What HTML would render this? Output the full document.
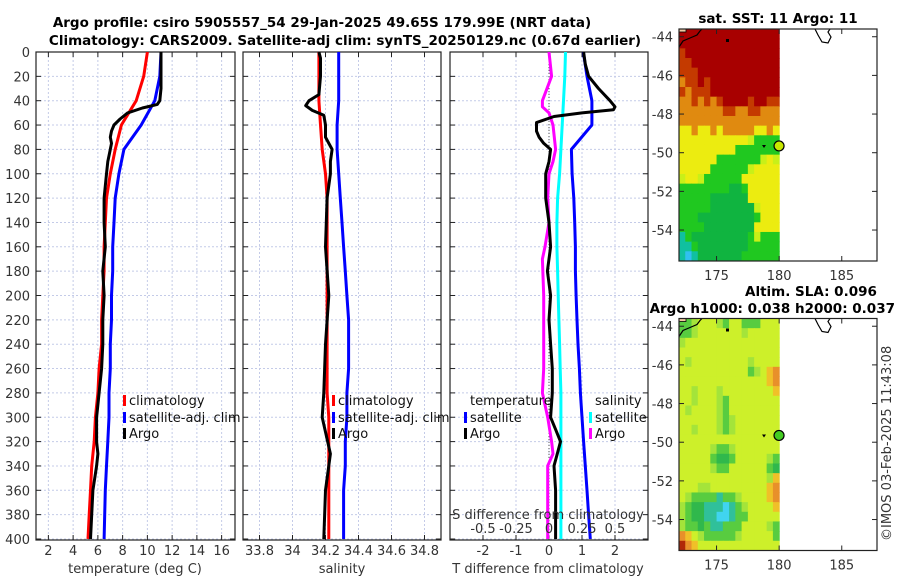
<!DOCTYPE html>
<html><head><meta charset="utf-8"><style>
body{margin:0;background:#fff}
svg{display:block;font-family:"DejaVu Sans","Liberation Sans",sans-serif}
.tk{font-size:13px;fill:#333}
.ttl{font-size:13.5px;font-weight:bold;fill:#000}
.lg{font-size:13px;fill:#111}
</style></head><body>
<svg id="fig" width="900" height="580" viewBox="0 0 900 580" xmlns="http://www.w3.org/2000/svg">
<defs>
<clipPath id="c1"><rect x="36" y="52" width="206" height="488"/></clipPath>
<clipPath id="c2"><rect x="243" y="52" width="206" height="488"/></clipPath>
<clipPath id="c3"><rect x="450" y="52" width="198" height="488"/></clipPath>
<clipPath id="cm1"><rect x="679" y="29" width="198" height="232"/></clipPath>
<clipPath id="cm2"><rect x="679" y="318.5" width="198" height="232"/></clipPath>
</defs>
<text class="ttl" x="322" y="27" text-anchor="middle">Argo profile: csiro 5905557_54 29-Jan-2025 49.65S 179.99E (NRT data)</text>
<text class="ttl" x="345" y="45" text-anchor="middle">Climatology: CARS2009. Satellite-adj clim: synTS_20250129.nc (0.67d earlier)</text>
<text class="ttl" x="778" y="23" text-anchor="middle">sat. SST: 11 Argo: 11</text>
<text class="ttl" x="745" y="296">Altim. SLA: 0.096</text>
<text class="ttl" x="895" y="313" text-anchor="end">Argo h1000: 0.038 h2000: 0.037</text>
<text class="tk" transform="translate(891,541) rotate(-90)">©IMOS 03-Feb-2025 11:43:08</text>
<g id="layer"></g>
</svg>
<script>
// ---------- data ----------
const depths = [0,20,40,60,80,100,120,140,160,180,200,220,240,260,280,300,320,340,360,380,400];
const climT = [10.0,9.7,9.1,7.9,7.4,7.0,6.7,6.6,6.5,6.5,6.4,6.3,6.3,6.1,6.0,5.8,5.7,5.5,5.4,5.3,5.2];
const satT = [11.1,11.0,10.6,9.5,8.1,7.7,7.4,7.3,7.2,7.2,7.1,7.1,7.0,7.0,6.9,6.9,6.8,6.7,6.6,6.55,6.5];
const argoDepth = [0,10,20,30,40,43,46,50,55,60,65,70,75,80,90,100,120,140,160,180,200,220,240,260,280,300,320,330,340,360,380,400];
const argoT = [11.1,11.1,11.1,11.1,11.0,10.8,9.6,8.4,7.8,7.3,7.1,7.0,7.1,7.0,6.8,6.7,6.5,6.5,6.6,6.4,6.5,6.4,6.4,6.3,6.1,5.9,5.9,6.0,5.9,5.6,5.5,5.4];
const climS = [34.16,34.16,34.16,34.17,34.18,34.20,34.21,34.21,34.21,34.21,34.21,34.21,34.21,34.21,34.21,34.22,34.22,34.22,34.22,34.22,34.22];
const satS = [34.28,34.28,34.28,34.27,34.27,34.28,34.29,34.30,34.31,34.32,34.33,34.34,34.34,34.34,34.33,34.33,34.32,34.32,34.31,34.31,34.31];
const argoSDepth = [0,5,20,35,40,44,48,52,60,70,80,90,100,120,160,200,240,280,300,330,360,400];
const argoS = [34.16,34.17,34.17,34.16,34.10,34.08,34.12,34.19,34.20,34.20,34.24,34.23,34.23,34.21,34.20,34.22,34.20,34.19,34.18,34.23,34.20,34.19];
const satTdiff = [1.04,1.15,1.3,1.3,0.68,0.7,0.75,0.78,0.8,0.8,0.82,0.85,0.88,0.92,0.95,1.0,1.05,1.1,1.15,1.2,1.25];
const satSdiff = [0.125,0.12,0.11,0.10,0.09,0.08,0.065,0.06,0.06,0.065,0.07,0.075,0.08,0.085,0.09,0.09,0.09,0.09,0.09,0.09,0.09];
const argoTdDepth = [0,10,20,30,40,45,47.5,50,53,58,65,70,75,80,90,100,120,140,160,180,200,220,240,260,280,300,310,320,330,340,360,380,400];
const argoTdiff = [1.05,1.1,1.2,1.5,1.85,2.0,1.95,1.0,0.15,-0.38,-0.38,-0.3,-0.16,0.05,0.0,-0.1,-0.1,0.0,0.05,-0.05,0.05,0.0,0.05,0.1,0.1,0.05,0.2,0.35,0.25,0.15,0.2,0.2,0.2];
const argoSdDepth = [0,20,40,45,50,60,80,90,100,120,140,160,170,200,260,280,300,320,330,340,360,400];
const argoSdiff = [0.0,0.02,-0.05,-0.05,0.0,0.03,0.05,0.03,0.0,-0.01,0.0,-0.03,-0.05,-0.04,-0.04,-0.05,-0.01,0.02,0.03,-0.01,-0.01,-0.01];
const depthTicks = [0,20,40,60,80,100,120,140,160,180,200,220,240,260,280,300,320,340,360,380,400];
const tTicks = [2,4,6,8,10,12,14,16];
const sTicks = [33.8,34,34.2,34.4,34.6,34.8];
const tdTicks = [-2,-1,0,1,2];
const sdTicks = [-0.5,-0.25,0,0.25,0.5];
const latTicks = [-44,-46,-48,-50,-52,-54];
const lonTicks = [175,180,185];
const sstGrid = [
"RRRRRRRRRRRRRRRR","RRRRRRRRRRRRRRRR","rRRRRRRRRRRRRRRR","rrRRRRRRRRRRRRRR",
"rrrRRRRRRRRRRRRR","orrRrRRRRRRRRRRR","rorrrRRRRRRRRRRR","oorororRRRRrRRrr",
"ooooooorroorrooo","oooooooooooooooo","yyoyyoyoooooyyoy","yyyyyyyyyyyYgggg",
"yyyyyyyyyggggggg","yyyyyygggggggYyY","yyyyyggggggYyyyy","YyyYggggggyyyyyy",
"ggggggggGGgyyyyy","gggggGGGGGGyyyyy","gggggGGGGGGGYyyy","gggGGGGGGGGGgyyy",
"ggggGGGGGGGGyyyy","cgGGGGGGGGGgYggg","ccgGGGGGGGGggggg","cbcGGGGGGGgggggg"];
const slaGrid = [
"gglYYYlgYYgggYYY","gglYYYYYYYlYYYYY","lYYYYYYYYYYYYYYY","YYYYYYYYYYYYYYYY",
"YlYYYYYYYYYlYYYY","YYYYYYYYYYYglYoO","YYYYYYYYYYYYYYoO","YYlYYYlYYYYYYYYo",
"YYlYYYlgYYYYYYYY","YlYYYYlgYYYYYYYY","YYYYYYlglYYYYYYY","YYlYYYlglYYYYYYY",
"YYYYYYYYYYYYYYYY","YYYYYlgglYYYYYYY","YYYYYgGGgYYYYYlg","YYYYYlggYYYYYYgG",
"YYYYYYYYYYYYYYlo","YYYllYYYYYYYYYoO","YlggggcgglYYYYoO","lgGGcccbcglYYYYo",
"lgGGccbbcggYYYYY","lggGgccgggYYYYlg","OoYlggggglYYYYYg","rOoYYYYYYYYYYYYY"];
const sstColors = {R:"#a80000",r:"#c43a00",o:"#e08a10",y:"#ecec10",Y:"#c8f018",g:"#20c820",G:"#10b440",c:"#10c0a0",b:"#30c0f0"};
const slaColors = {Y:"#cdf02a",l:"#a4e43a",g:"#58cc40",G:"#30b84c",c:"#30c09a",b:"#40d4f0",o:"#f0c028",O:"#e8902a",r:"#b02808"};

// ---------- helpers ----------
const NS="http://www.w3.org/2000/svg";
const layer=document.getElementById('layer');
function mk(tag,attrs,parent){const e=document.createElementNS(NS,tag);for(const k in attrs)e.setAttribute(k,attrs[k]);(parent||layer).appendChild(e);return e;}
const yD=d=>52+d*(487/400);
const x1=t=>36+(t-1)*(198/16);
const x2=s=>243+(s-33.7)*165;
const x3=t=>450+(t+3)*33;
const x3s=s=>x3(s*4);
function pathFrom(xs,ds,fx){return xs.map((v,i)=>(i?'L':'M')+fx(v).toFixed(1)+','+yD(ds[i]).toFixed(1)).join('');}

// ---------- profile panels ----------
const panels=[{l:36,r:235,ticks:tTicks,fx:x1,name:'temperature'},{l:243,r:441,ticks:sTicks,fx:x2,name:'salinity'},{l:450,r:648,ticks:tdTicks,fx:x3,name:'difference'}];
panels.forEach((p,pi)=>{
  const g=mk('g',{});
  
  
  depthTicks.forEach(d=>{
    const gl=mk('line',{x1:p.l,x2:p.r,y1:yD(d),y2:yD(d),stroke:'#c4cbe8','stroke-width':1,'stroke-dasharray':'2,2'},g);
    
    
    mk('line',{x1:p.l,x2:p.l+5,y1:yD(d),y2:yD(d),stroke:'#222'},g);
    mk('line',{x1:p.r-5,x2:p.r,y1:yD(d),y2:yD(d),stroke:'#222'},g);
    if(pi===0){const t=mk('text',{x:30,y:yD(d)+5,'text-anchor':'end',class:'tk'},g);t.textContent=d;
      
      }
  });
  p.ticks.forEach(v=>{
    const x=p.fx(v);
    const gl=mk('line',{x1:x,x2:x,y1:52,y2:540,stroke:'#c4cbe8','stroke-width':1,'stroke-dasharray':'2,2'},g);
    
    
    mk('line',{x1:x,x2:x,y1:52,y2:57,stroke:'#222'},g);
    mk('line',{x1:x,x2:x,y1:535,y2:540,stroke:'#222'},g);
    const t=mk('text',{x:x,y:555,'text-anchor':'middle',class:'tk'},g);t.textContent=v;
    
    
  });
  const fr=mk('rect',{x:p.l,y:52,width:p.r-p.l,height:488,fill:'none',stroke:'#222','stroke-width':1.2},g);
  
  
});
const xl=[['temperature (deg C)',135],['salinity',342],['T difference from climatology',548]];
xl.forEach(a=>{const t=mk('text',{x:a[1],y:573,'text-anchor':'middle',class:'tk'});t.textContent=a[0];
  
  });

// zero line panel 3
const zl=mk('line',{x1:x3(0),x2:x3(0),y1:52,y2:540,stroke:'#555','stroke-width':1,'stroke-dasharray':'1,2'});



function series(vals,ds,fx,color,clip,name){
  const e=mk('path',{d:pathFrom(vals,ds,fx),fill:'none',stroke:color,'stroke-width':3,'stroke-linejoin':'round','clip-path':'url(#'+clip+')'});
  
  
}
series(climT,depths,x1,'#ff0000','c1','climatology-temperature-line');
series(satT,depths,x1,'#0000ff','c1','satellite-temperature-line');
series(argoT,argoDepth,x1,'#000','c1','argo-temperature-line');
series(climS,depths,x2,'#ff0000','c2','climatology-salinity-line');
series(satS,depths,x2,'#0000ff','c2','satellite-salinity-line');
series(argoS,argoSDepth,x2,'#000','c2','argo-salinity-line');
series(argoSdiff,argoSdDepth,x3s,'#ff00ff','c3','argo-salinity-diff-line');
series(satSdiff,depths,x3s,'#00ffff','c3','satellite-salinity-diff-line');
series(satTdiff,depths,x3,'#0000ff','c3','satellite-temperature-diff-line');
series(argoTdiff,argoTdDepth,x3,'#000','c3','argo-temperature-diff-line');

// S diff axis inside panel 3
const sl=mk('text',{x:548,y:519,'text-anchor':'middle',class:'tk'});sl.textContent='S difference from climatology';


sdTicks.forEach(v=>{const t=mk('text',{x:x3s(v),y:533,'text-anchor':'middle',class:'tk'});t.textContent=v;
  
  });

// legends
function legend(items,clip){
  const g=mk('g',{'clip-path':clip?'url(#'+clip+')':''});
  
  
  items.forEach(it=>{
    if(it.c){const b=mk('rect',{x:it.x-6,y:it.y-10,width:3,height:11,fill:it.c},g);
      
      }
    const t=mk('text',{x:it.x,y:it.y,class:'lg'},g);t.textContent=it.t;
    
    
  });
}
legend([{x:129,y:405,t:'climatology',c:'#ff0000'},{x:129,y:422,t:'satellite-adj. clim',c:'#0000ff'},{x:129,y:438,t:'Argo',c:'#000'}],'c1');
legend([{x:338,y:405,t:'climatology',c:'#ff0000'},{x:338,y:422,t:'satellite-adj. clim',c:'#0000ff'},{x:338,y:438,t:'Argo',c:'#000'}],'c2');
legend([{x:470,y:405,t:'temperature'},{x:470,y:422,t:'satellite',c:'#0000ff'},{x:470,y:438,t:'Argo',c:'#000'},
        {x:595,y:405,t:'salinity'},{x:595,y:422,t:'satellite',c:'#00ffff'},{x:595,y:438,t:'Argo',c:'#ff00ff'}],'c3');

// ---------- maps ----------
const mx=l=>679+(l-172)*12.52;
function drawMap(top,grid,colors,dotColor,clip,name){
  const g=mk('g',{});
  
  
  const my=la=>top+(-43.6-la)*19.33;
  const cg=mk('g',{'clip-path':'url(#'+clip+')'},g);
  grid.forEach((row,j)=>{[...row].forEach((ch,i)=>{
    const c=mk('rect',{x:mx(172+i*0.5).toFixed(2),y:my(-43.6-j*0.5).toFixed(2),width:6.8,height:10.2,fill:colors[ch]},cg);
    
    
  });});
  // coast
  const co=mk('path',{d:`M679,${top+18} L683,${top+12} L690,${top+9} L697,${top+6} L700,${top+2} L702,${top}`,fill:'none',stroke:'#000','stroke-width':1.2},cg);
  
  
  mk('rect',{x:679,y:top,width:7,height:3,fill:'#f0c8a0',stroke:'#000','stroke-width':0.8},cg);
  const isl=mk('path',{d:`M815,${top} L818,${top+6} L822,${top+13} L828,${top+14} L831,${top+8} L828,${top+3} L830,${top}`,fill:'#fff',stroke:'#000','stroke-width':1.2},cg);
  
  
  mk('rect',{x:726,y:top+10,width:3,height:3,fill:'#000'},cg);
  mk('path',{d:`M762,${my(-49.65)-1} l4,0 l-2,3z`,fill:'#000'},cg);
  const dot=mk('circle',{cx:mx(179.99),cy:my(-49.65),r:5,fill:dotColor,stroke:'#000','stroke-width':1.2},g);
  
  
  latTicks.forEach(la=>{const y=my(la);
    mk('line',{x1:679,x2:684,y1:y,y2:y,stroke:'#222'},g);mk('line',{x1:872,x2:877,y1:y,y2:y,stroke:'#222'},g);
    const t=mk('text',{x:673,y:y+5,'text-anchor':'end',class:'tk'},g);t.textContent=la;
    
    });
  lonTicks.forEach(lo=>{const x=mx(lo);
    mk('line',{x1:x,x2:x,y1:top,y2:top+5,stroke:'#222'},g);mk('line',{x1:x,x2:x,y1:top+227,y2:top+232,stroke:'#222'},g);
    const t=mk('text',{x:x,y:top+251,'text-anchor':'middle',class:'tk'},g);t.textContent=lo;
    
    });
  mk('rect',{x:679,y:top,width:198,height:232,fill:'none',stroke:'#222','stroke-width':1.2},g);
}
drawMap(29,sstGrid,sstColors,'#c8e800','cm1','sst-map');
drawMap(318.5,slaGrid,slaColors,'#44cc22','cm2','sla-map');
</script>
</body></html>
